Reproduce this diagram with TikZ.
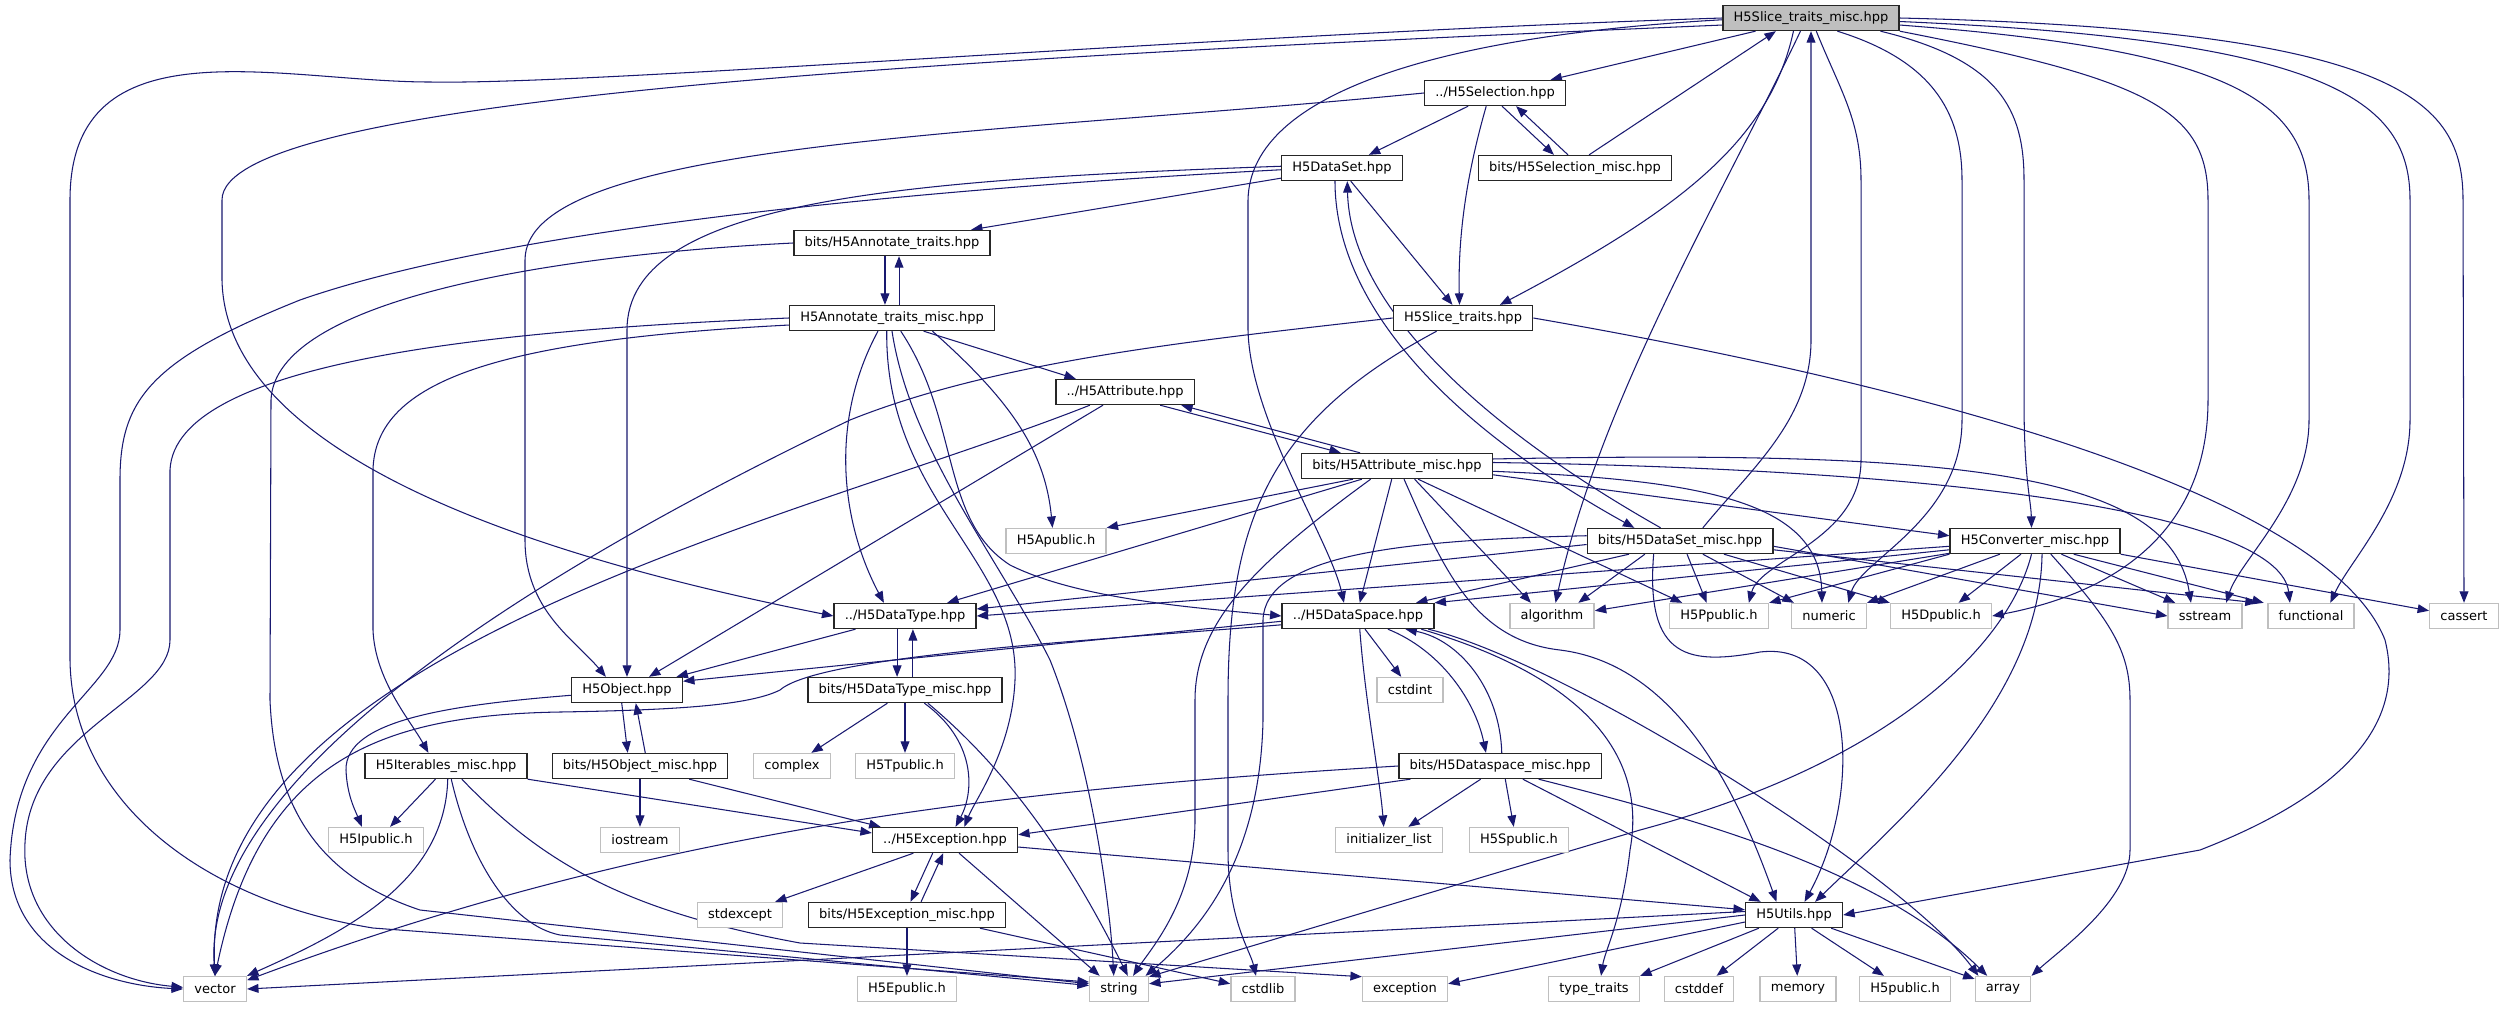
\documentclass[tikz,border=0pt]{standalone}
\usepackage{fontspec}
\setmainfont{DejaVu Sans}
\usepackage{xcolor}
\usepackage{tikz}
\usetikzlibrary{arrows.meta, positioning, backgrounds}
\definecolor{edgeblue}{HTML}{191970}
\definecolor{boxgray}{HTML}{BFBFBF}
\tikzset{every picture/.style={font issue=\fontsize{7.4pt}{9pt}},
         font issue/.style={execute at begin picture={#1\selectfont}},
         hdr/.style={draw=black!85, line width=0.8pt, fill=white, minimum height=14.2pt, inner xsep=6.1pt, inner ysep=0pt},
         syshdr/.style={hdr, draw=boxgray},
         incl/.style={draw=edgeblue, line width=0.6pt, -{Triangle[length=6.5pt,width=5pt]}}
        }

\begin{document}
\begin{tikzpicture}[x=0.02cm, y=-0.02cm]
\useasboundingbox (0,0) rectangle (2504,1008);
\node[hdr, fill=boxgray] (root) at (1811,18) {H5Slice\_traits\_misc.hpp};
\node[hdr] (sel) at (1495,93) {../H5Selection.hpp};
\node[hdr] (dset) at (1342,168) {H5DataSet.hpp};
\node[hdr] (selm) at (1575,168) {bits/H5Selection\_misc.hpp};
\node[hdr] (annot) at (892,243) {bits/H5Annotate\_traits.hpp};
\node[hdr] (annotm) at (892,318) {H5Annotate\_traits\_misc.hpp};
\node[hdr] (slice) at (1463,318) {H5Slice\_traits.hpp};
\node[hdr] (attr) at (1125,392) {../H5Attribute.hpp};
\node[hdr] (attrm) at (1397,466) {bits/H5Attribute\_misc.hpp};
\node[syshdr] (apub) at (1056,541) {H5Apublic.h};
\node[hdr] (dsetm) at (1680,541) {bits/H5DataSet\_misc.hpp};
\node[hdr] (conv) at (2035,541) {H5Converter\_misc.hpp};
\node[hdr] (dtype) at (905,616) {../H5DataType.hpp};
\node[hdr] (dspace) at (1358,616) {../H5DataSpace.hpp};
\node[syshdr] (algo) at (1552,616) {algorithm};
\node[syshdr] (ppub) at (1719,616) {H5Ppublic.h};
\node[syshdr] (numeric) at (1829,616) {numeric};
\node[syshdr] (dpub) at (1941,616) {H5Dpublic.h};
\node[syshdr] (sstream) at (2205,616) {sstream};
\node[syshdr] (functional) at (2311,616) {functional};
\node[syshdr] (cassert) at (2464,616) {cassert};
\node[hdr] (obj) at (627,690) {H5Object.hpp};
\node[hdr] (dtypem) at (905,690) {bits/H5DataType\_misc.hpp};
\node[syshdr] (cstdint) at (1410,690) {cstdint};
\node[hdr] (iter) at (446,766) {H5Iterables\_misc.hpp};
\node[hdr] (objm) at (640,766) {bits/H5Object\_misc.hpp};
\node[syshdr] (complex) at (792,766) {complex};
\node[syshdr] (tpub) at (905,766) {H5Tpublic.h};
\node[hdr] (dspacem) at (1500,766) {bits/H5Dataspace\_misc.hpp};
\node[syshdr] (ipub) at (376,840) {H5Ipublic.h};
\node[syshdr] (iostream) at (640,840) {iostream};
\node[hdr] (exc) at (945,840) {../H5Exception.hpp};
\node[syshdr] (initlist) at (1389,840) {initializer\_list};
\node[syshdr] (spub) at (1519,840) {H5Spublic.h};
\node[syshdr] (stdexcept) at (740,915) {stdexcept};
\node[hdr] (excm) at (907,915) {bits/H5Exception\_misc.hpp};
\node[hdr] (utils) at (1794,915) {H5Utils.hpp};
\node[syshdr] (vector) at (215,989) {vector};
\node[syshdr] (epub) at (907,989) {H5Epublic.h};
\node[syshdr] (string) at (1119,989) {string};
\node[syshdr] (cstdlib) at (1263,989) {cstdlib};
\node[syshdr] (exception) at (1405,989) {exception};
\node[syshdr] (typetraits) at (1594,989) {type\_traits};
\node[syshdr] (cstddef) at (1699,989) {cstddef};
\node[syshdr] (memory) at (1798,989) {memory};
\node[syshdr] (h5pub) at (1905,989) {H5public.h};
\node[syshdr] (array) at (2003,989) {array};

\begin{scope}[on background layer]
\fill[white] (0,0) rectangle (2504,1008);
\draw[incl] (root.west) .. controls (1200,35) and (600,85) .. (430,82) .. controls (280,82) and (70,20) .. (70,200) -- (70,660) .. controls (72,800) and (200,900) .. (373,928) -- ([yshift=4pt]string.west);
\draw[incl] ([yshift=-4pt]root.west) .. controls (900,60) and (222,100) .. (222,200) -- (222,280) .. controls (225,430) and (450,540) .. (dtype.west);
\draw[incl] ([yshift=-1pt]root.west) .. controls (1450,35) and (1250,90) .. (1248,200) -- (1248,330) .. controls (1250,420) and (1330,540) .. ([xshift=-8pt]dspace.north);
\draw[incl] (root) -- (sel);
\draw[incl] ([xshift=-10pt]root.south) .. controls (1770,140) and (1680,210) .. ([xshift=21pt]slice.north);
\draw[incl] ([xshift=-6pt]root.south) .. controls (1720,200) and (1600,400) .. ([xshift=2pt]algo.north);
\draw[incl] ([xshift=3pt]root.south) .. controls (1840,90) and (1861,120) .. (1861,180) -- (1861,460) .. controls (1861,540) and (1760,560) .. ([xshift=17pt]ppub.north);
\draw[incl] ([xshift=15pt]root.south) .. controls (1930,60) and (1962,110) .. (1962,180) -- (1962,420) .. controls (1962,520) and (1860,560) .. ([xshift=11pt]numeric.north);
\draw[incl] ([xshift=-11pt]root.south east) .. controls (2000,60) and (2024,110) .. (2024,180) -- (2024,400) .. controls (2024,480) and (2031,500) .. ([xshift=-2pt]conv.north);
\draw[incl] (root.south east) .. controls (2150,80) and (2208,110) .. (2208,200) -- (2208,400) .. controls (2208,520) and (2130,590) .. (dpub.east);
\draw[incl] ([yshift=-4pt]root.east) .. controls (2230,50) and (2309,100) .. (2309,200) -- (2309,420) .. controls (2309,500) and (2240,560) .. ([xshift=12pt]sstream.north);
\draw[incl] ([yshift=-2pt]root.east) .. controls (2330,40) and (2410,100) .. (2410,200) -- (2410,420) .. controls (2410,500) and (2350,560) .. ([xshift=11pt]functional.north);
\draw[incl] (root.east) .. controls (2400,30) and (2463,100) .. (2463,200) -- (cassert.north);

\draw[incl] (sel.west) .. controls (1000,135) and (525,140) .. (525,260) -- (525,540) .. controls (525,610) and (575,640) .. ([xshift=-12pt]obj.north);
\draw[incl] (sel) -- (dset);
\draw[incl] ([xshift=-5pt]sel.south) .. controls (1465,180) and (1458,240) .. ([xshift=-2pt]slice.north);
\draw[incl] ([xshift=4pt]sel.south) -- ([xshift=-12pt]selm.north);
\draw[incl] ([xshift=-4pt]selm.north) -- ([xshift=12pt]sel.south);
\draw[incl] ([xshift=8pt]selm.north) -- ([xshift=-20pt]root.south);

\draw[incl] (dset) -- (annot);
\draw[incl] ([yshift=1pt]dset.west) .. controls (900,180) and (627,200) .. (627,330) -- (obj.north);
\draw[incl] ([yshift=-1pt]dset.west) .. controls (900,190) and (500,230) .. (300,300) .. controls (150,360) and (120,400) .. (120,480) -- (120,630) .. controls (120,690) and (15,720) .. (10,860) .. controls (10,950) and (100,985) .. (vector.west);
\draw[incl] ([xshift=5pt]dset.south) -- ([xshift=-6pt]slice.north);
\draw[incl] ([xshift=-4pt]dset.south) .. controls (1335,300) and (1440,420) .. ([xshift=-26pt]dsetm.north);
\draw[incl] ([xshift=-11pt]dsetm.north) .. controls (1470,420) and (1350,300) .. ([xshift=3pt]dset.south);

\draw[incl] (annot.west) .. controls (550,255) and (275,300) .. (271,400) -- (270,700) .. controls (275,820) and (330,880) .. (420,910) -- ([yshift=3pt]string.west);
\draw[incl] ([xshift=-4pt]annot.south) -- ([xshift=-4pt]annotm.north);
\draw[incl] ([xshift=4pt]annotm.north) -- ([xshift=4pt]annot.south);

\draw[incl] (annotm.west) .. controls (500,330) and (175,360) .. (170,470) -- (170,640) .. controls (170,700) and (30,730) .. (25,843) .. controls (20,930) and (100,980) .. ([yshift=1pt]vector.west);
\draw[incl] ([yshift=-4pt]annotm.west) .. controls (500,340) and (375,380) .. (373,470) -- (373,630) .. controls (375,680) and (410,720) .. ([xshift=-10pt]iter.north);
\draw[incl] ([xshift=-8pt]annotm.south) .. controls (830,420) and (840,520) .. ([xshift=-12pt]dtype.north);
\draw[incl] ([xshift=-3pt]annotm.south) .. controls (885,500) and (1020,560) .. (1015,680) .. controls (1012,750) and (975,800) .. ([xshift=11pt]exc.north);
\draw[incl] (annotm.south) .. controls (910,450) and (1000,560) .. (1050,660) .. controls (1090,760) and (1110,900) .. ([xshift=-3pt]string.north);
\draw[incl] ([xshift=5pt]annotm.south) .. controls (960,420) and (940,520) .. (1010,565) .. controls (1080,600) and (1200,608) .. (dspace.west);
\draw[incl] ([xshift=18pt]annotm.south) -- ([xshift=-28pt]attr.north);
\draw[incl] ([xshift=23pt]annotm.south) .. controls (1010,400) and (1045,450) .. ([xshift=-2pt]apub.north);

\draw[incl] (slice.west) .. controls (1200,340) and (1000,360) .. (850,420) .. controls (600,540) and (200,760) .. (vector.north);
\draw[incl] ([xshift=-15pt]slice.south) .. controls (1270,420) and (1228,520) .. (1228,700) -- (1228,850) .. controls (1228,920) and (1250,950) .. ([xshift=-4pt]cstdlib.north);
\draw[incl] (slice.east) .. controls (1950,390) and (2330,500) .. (2385,640) .. controls (2400,700) and (2380,780) .. (2200,850) -- (utils.east);

\draw[incl] (attr) -- (obj);
\draw[incl] ([xshift=-20pt]attr.south) .. controls (800,520) and (200,650) .. (vector.north);
\draw[incl] ([xshift=20pt]attr.south) -- ([xshift=-32pt]attrm.north);
\draw[incl] ([xshift=-21pt]attrm.north) -- ([xshift=32pt]attr.south);

\draw[incl] ([xshift=-25pt]attrm.south) -- (apub.north east);
\draw[incl] ([xshift=-20pt]attrm.south) -- ([xshift=24pt]dtype.north);
\draw[incl] ([xshift=-3pt]attrm.south) -- ([xshift=1pt]dspace.north);
\draw[incl] ([xshift=-15pt]attrm.south) .. controls (1260,560) and (1195,620) .. (1195,700) -- (1195,820) .. controls (1195,900) and (1150,950) .. ([xshift=8pt]string.north);
\draw[incl] ([xshift=10pt]attrm.south) -- ([xshift=-12pt]algo.north);
\draw[incl] ([xshift=4pt]attrm.south) .. controls (1440,560) and (1470,640) .. (1560,650) .. controls (1680,665) and (1740,800) .. ([xshift=-10pt]utils.north);
\draw[incl] ([xshift=12pt]attrm.south) -- ([xshift=-21pt]ppub.north);
\draw[incl] ([yshift=-3pt]attrm.east) .. controls (1700,480) and (1820,500) .. ([xshift=-4pt]numeric.north);
\draw[incl] ([yshift=-5pt]attrm.east) -- ([yshift=3pt]conv.west);
\draw[incl] ([yshift=4pt]attrm.east) .. controls (1950,450) and (2170,470) .. ([xshift=-8pt]sstream.north);
\draw[incl] ([yshift=2pt]attrm.east) .. controls (2000,470) and (2280,520) .. ([xshift=-12pt]functional.north);

\draw[incl] ([xshift=13pt]dsetm.north) .. controls (1750,470) and (1811,420) .. (1811,340) -- (root.south);
\draw[incl] ([yshift=-2pt]dsetm.west) -- ([yshift=4pt]dtype.east);
\draw[incl] ([xshift=-29pt]dsetm.south) -- ([xshift=33pt]dspace.north);
\draw[incl] ([xshift=-20pt]dsetm.south) -- ([xshift=15pt]algo.north);
\draw[incl] ([xshift=4pt]dsetm.south) -- ([xshift=-7pt]ppub.north);
\draw[incl] ([xshift=13pt]dsetm.south) -- ([xshift=-20pt]numeric.north);
\draw[incl] ([xshift=25pt]dsetm.south) -- (dpub.north west);
\draw[incl] ([yshift=-3pt]dsetm.east) -- (sstream.west);
\draw[incl] ([yshift=-5pt]dsetm.east) -- ([xshift=-6pt]functional.north west);
\draw[incl] ([yshift=3pt]dsetm.west) .. controls (1400,540) and (1265,555) .. (1263,620) -- (1263,720) .. controls (1260,860) and (1200,930) .. ([xshift=-2pt]string.north east);
\draw[incl] ([xshift=-15pt]dsetm.south) .. controls (1645,660) and (1690,665) .. (1760,652) .. controls (1860,640) and (1860,800) .. ([xshift=6pt]utils.north);

\draw[incl] ([yshift=-3pt]conv.west) -- (dtype.east);
\draw[incl] ([yshift=-5pt]conv.west) -- (dspace.north east);
\draw[incl] ([yshift=-7pt]conv.west) -- ([yshift=3pt]algo.east);
\draw[incl] (conv.south west) -- (ppub.north east);
\draw[incl] ([xshift=-20pt]conv.south) -- (numeric.north east);
\draw[incl] ([xshift=-8pt]conv.south) -- ([xshift=10pt]dpub.north);
\draw[incl] ([xshift=-2pt]conv.south) .. controls (2010,640) and (1900,760) .. (1640,830) -- ([yshift=7pt]string.east);
\draw[incl] ([xshift=4pt]conv.south) .. controls (2040,700) and (1900,820) .. ([xshift=12pt]utils.north);
\draw[incl] ([xshift=9pt]conv.south) .. controls (2110,620) and (2130,650) .. (2130,700) -- (2130,850) .. controls (2130,900) and (2060,950) .. (array.north east);
\draw[incl] ([xshift=15pt]conv.south) -- ([xshift=-17pt]sstream.north);
\draw[incl] ([xshift=22pt]conv.south) -- ([xshift=-2pt]functional.north west);
\draw[incl] (conv.south east) -- ([yshift=3pt]cassert.west);

\draw[incl] (dtype) -- (obj);
\draw[incl] ([xshift=-4.5pt]dtype.south) -- ([xshift=-4.5pt]dtypem.north);
\draw[incl] ([xshift=4.5pt]dtypem.north) -- ([xshift=4.5pt]dtype.south);

\draw[incl] ([yshift=-3pt]dspace.west) -- ([yshift=5pt]obj.east);
\draw[incl] ([yshift=-5pt]dspace.west) .. controls (1100,640) and (820,655) .. (780,690) .. controls (750,705) and (680,710) .. (560,712) .. controls (380,715) and (260,760) .. (vector.north);
\draw[incl] ([xshift=4pt]dspace.south) -- ([xshift=-5pt]cstdint.north);
\draw[incl] ([xshift=1pt]dspace.south) .. controls (1365,700) and (1380,780) .. ([xshift=-3pt]initlist.north);
\draw[incl] ([xshift=17pt]dspace.south) .. controls (1440,650) and (1475,700) .. ([xshift=-8pt]dspacem.north);
\draw[incl] ([xshift=1pt]dspacem.north) .. controls (1500,690) and (1460,640) .. ([xshift=27pt]dspace.south);
\draw[incl] ([xshift=36pt]dspace.south) .. controls (1560,670) and (1650,740) .. (1630,850) .. controls (1622,920) and (1605,950) .. ([xshift=4pt]typetraits.north);
\draw[incl] ([xshift=40pt]dspace.south) .. controls (1560,660) and (1900,870) .. ([xshift=-14pt]array.north);

\draw[incl] ([xshift=7pt]dspacem.south west) -- ([yshift=3pt]exc.east);
\draw[incl] (dspacem.west) .. controls (1000,790) and (650,830) .. ([yshift=5pt]vector.east);
\draw[incl] ([xshift=-11pt]dspacem.south) -- ([xshift=11pt]initlist.north);
\draw[incl] ([xshift=3pt]dspacem.south) -- ([xshift=-3pt]spub.north);
\draw[incl] ([xshift=13pt]dspacem.south) -- ([xshift=-19pt]utils.north);
\draw[incl] ([xshift=22pt]dspacem.south) .. controls (1700,820) and (1880,870) .. ([xshift=-9pt]array.north);

\draw[incl] ([yshift=-3pt]obj.west) .. controls (450,705) and (345,720) .. (346,770) .. controls (347,795) and (355,810) .. ([xshift=-8pt]ipub.north);
\draw[incl] ([xshift=-3pt]obj.south) -- ([xshift=-7pt]objm.north);
\draw[incl] ([xshift=3pt]objm.north) -- ([xshift=5pt]obj.south);

\draw[incl] ([xshift=-10pt]dtypem.south) -- ([xshift=11pt]complex.north);
\draw[incl] (dtypem) -- (tpub);
\draw[incl] ([xshift=11pt]dtypem.south) .. controls (975,740) and (975,790) .. ([xshift=6pt]exc.north);
\draw[incl] ([xshift=13pt]dtypem.south) .. controls (1020,780) and (1080,880) .. ([xshift=5pt]string.north);

\draw[incl] ([xshift=-6pt]iter.south) -- ([xshift=8pt]ipub.north);
\draw[incl] ([xshift=1pt]iter.south) .. controls (445,880) and (350,930) .. (vector.north east);
\draw[incl] ([xshift=3pt]iter.south) .. controls (470,860) and (510,925) .. (560,935) -- ([yshift=2pt]string.west);
\draw[incl] ([xshift=9pt]iter.south) .. controls (540,860) and (620,910) .. (800,943) -- ([yshift=7pt]exception.west);
\draw[incl] (iter.south east) -- ([yshift=4pt]exc.west);

\draw[incl] (objm) -- (iostream);
\draw[incl] ([xshift=28pt]objm.south) -- ([xshift=5pt]exc.north west);

\draw[incl] ([xshift=-18pt]exc.south) -- ([xshift=20pt]stdexcept.north);
\draw[incl] ([xshift=8pt]exc.south) -- ([xshift=-11pt]string.north);
\draw[incl] ([yshift=-4pt]exc.east) -- ([yshift=3pt]utils.west);
\draw[incl] ([xshift=-7pt]exc.south) -- ([xshift=2pt]excm.north);
\draw[incl] ([xshift=8pt]excm.north) -- ([xshift=-1pt]exc.south);

\draw[incl] (excm) -- (epub);
\draw[incl] ([xshift=-15pt]excm.south east) -- ([yshift=3pt]cstdlib.west);

\draw[incl] ([yshift=2pt]utils.west) -- (vector.east);
\draw[incl] (utils.west) -- ([yshift=3pt]string.east);
\draw[incl] ([yshift=-4pt]utils.west) -- ([yshift=3pt]exception.east);
\draw[incl] ([xshift=-20pt]utils.south) -- (typetraits.north east);
\draw[incl] ([xshift=-9pt]utils.south) -- ([xshift=10pt]cstddef.north);
\draw[incl] (utils) -- (memory);
\draw[incl] ([xshift=10pt]utils.south) -- ([xshift=-12pt]h5pub.north);
\draw[incl] (utils) -- (array);
\end{scope}
\end{tikzpicture}
\end{document}
